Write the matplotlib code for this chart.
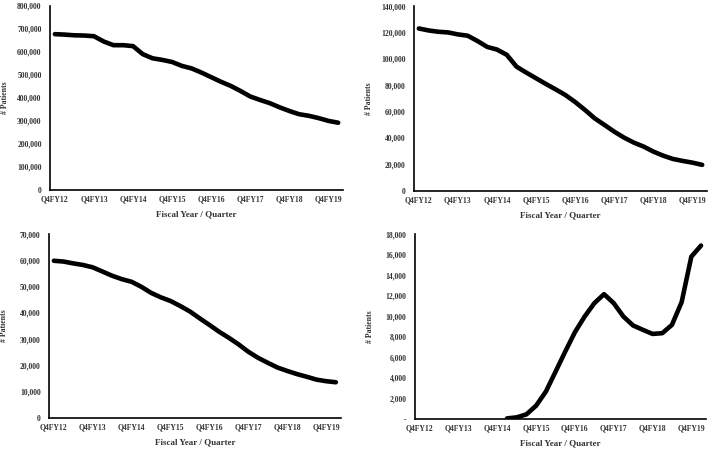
import matplotlib
matplotlib.use("Agg")
import matplotlib.pyplot as plt
from matplotlib.ticker import FuncFormatter, MultipleLocator

# Quarters Q4FY12 .. Q1FY20 (30 points), labels every 4th quarter
quarters = ["Q4FY12", "Q1FY13", "Q2FY13", "Q3FY13", "Q4FY13", "Q1FY14", "Q2FY14", "Q3FY14",
            "Q4FY14", "Q1FY15", "Q2FY15", "Q3FY15", "Q4FY15", "Q1FY16", "Q2FY16", "Q3FY16",
            "Q4FY16", "Q1FY17", "Q2FY17", "Q3FY17", "Q4FY17", "Q1FY18", "Q2FY18", "Q3FY18",
            "Q4FY18", "Q1FY19", "Q2FY19", "Q3FY19", "Q4FY19", "Q1FY20"]
tick_labels = ["Q4FY12", "Q4FY13", "Q4FY14", "Q4FY15", "Q4FY16", "Q4FY17", "Q4FY18", "Q4FY19"]

panel_a = [677000, 675000, 672000, 671000, 668000, 645000, 629000, 629000, 625000, 590000,
           572000, 565000, 556000, 539000, 528000, 510000, 490000, 470000, 452000, 430000,
           406000, 391000, 377000, 359000, 343000, 329000, 322000, 312000, 300000, 292000]
panel_b = [123000, 121500, 120500, 120000, 118500, 117500, 113500, 109000, 107000, 103000,
           94000, 89500, 85200, 80900, 76800, 72500, 67200, 61200, 54800, 49800,
           44700, 40200, 36400, 33400, 29600, 26500, 24000, 22500, 21200, 19500]
panel_c = [59800, 59500, 58800, 58200, 57300, 55700, 54100, 52800, 51800, 49900,
           47600, 45900, 44500, 42600, 40500, 37900, 35400, 32800, 30500, 28000,
           25200, 22900, 21000, 19200, 17900, 16700, 15700, 14600, 14000, 13600]
panel_d = [None] * 9 + [60, 160, 450, 1300, 2660, 4600, 6560, 8450, 9970, 11270,
                        12150, 11270, 9970, 9100, 8680, 8280, 8350, 9160, 11370, 15800, 16880]

panels = [
    (panel_a, 800000, 100000, [0.0706, 0.578, 0.414, 0.409], False),
    (panel_b, 140000, 20000, [0.5847, 0.5765, 0.414, 0.410], False),
    (panel_c, 70000, 10000, [0.0692, 0.0711, 0.412, 0.409], False),
    (panel_d, 18000, 2000, [0.586, 0.0689, 0.411, 0.411], True),
]


def plain_fmt(v, pos):
    return f"{int(round(v)):,}"


def dash_fmt(v, pos):
    return "-" if abs(v) < 1e-6 else f"{int(round(v)):,}"


serif = "Liberation Serif"
txt_color = "#333333"
fig = plt.figure(figsize=(7.08, 4.5), dpi=100)

for values, ymax, step, rect, dash_zero in panels:
    ax = fig.add_axes(rect)
    xs = [i for i, v in enumerate(values) if v is not None]
    ys = [v for v in values if v is not None]
    ax.plot(xs, ys, color="black", linewidth=3.3, solid_joinstyle="round",
            solid_capstyle="round")
    ax.set_xlim(-0.5, len(quarters) - 0.5)
    ax.set_ylim(0, ymax)
    ax.yaxis.set_major_locator(MultipleLocator(step))
    ax.yaxis.set_major_formatter(FuncFormatter(dash_fmt if dash_zero else plain_fmt))
    ax.set_xticks(range(0, len(quarters), 4))
    ax.set_xticklabels(tick_labels)
    ax.tick_params(length=0, labelsize=5.5, colors=txt_color)
    ax.tick_params(axis="y", pad=6)
    ax.tick_params(axis="x", pad=4)
    for lab in ax.get_xticklabels() + ax.get_yticklabels():
        lab.set_fontfamily(serif)
        lab.set_fontweight("bold")
    for s in ["top", "right"]:
        ax.spines[s].set_visible(False)
    for s in ["left", "bottom"]:
        ax.spines[s].set_color("black")
        ax.spines[s].set_linewidth(1.2)
    ax.set_xlabel("Fiscal Year / Quarter", fontsize=6.5, fontfamily=serif,
                  fontweight="bold", color=txt_color)
    ax.xaxis.set_label_coords(0.5, -0.11)
    ax.set_ylabel("# Patients", fontsize=5.6, fontfamily=serif,
                  fontweight="bold", color=txt_color)
    ax.yaxis.set_label_coords(-0.14, 0.5)

fig.savefig("out.png", dpi=100)
